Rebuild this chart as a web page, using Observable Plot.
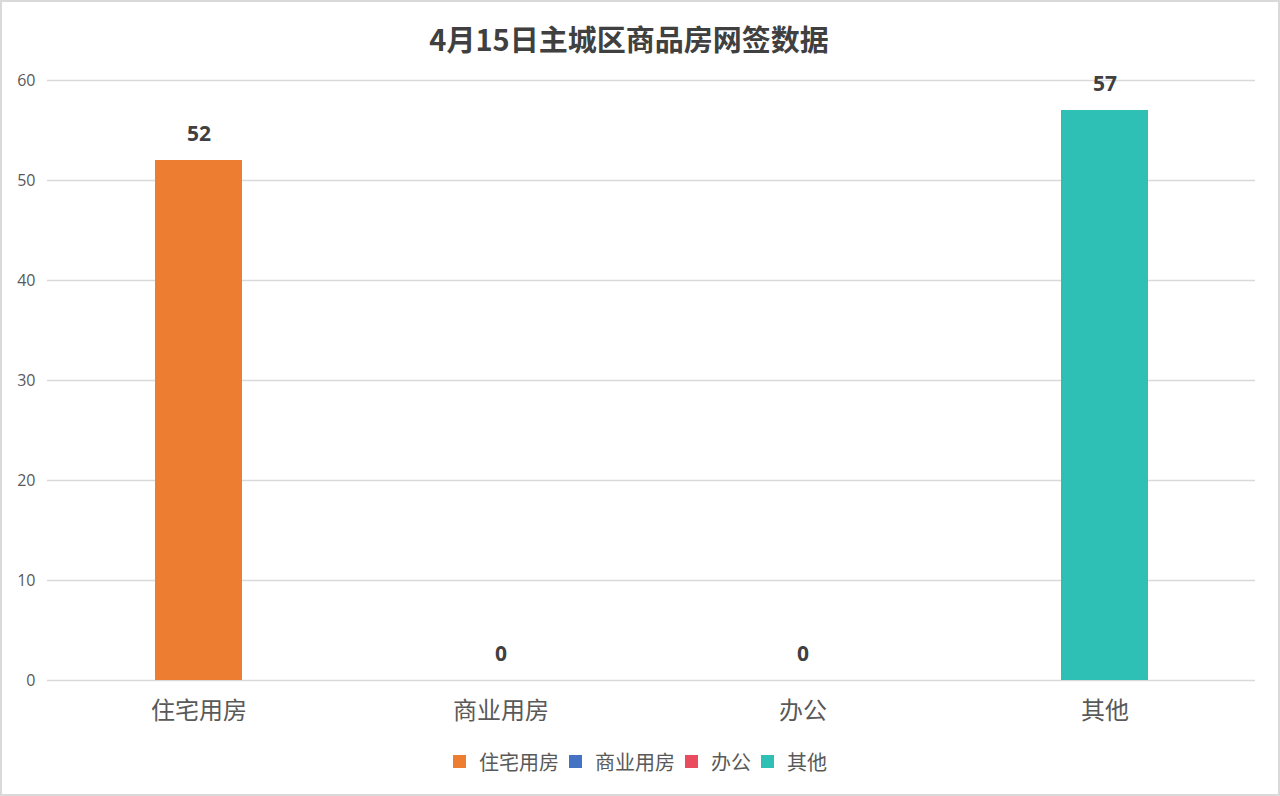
<!DOCTYPE html>
<html>
<head>
<meta charset="utf-8">
<script src="https://cdn.jsdelivr.net/npm/d3@7"></script>
<script src="https://cdn.jsdelivr.net/npm/@observablehq/plot@0.6"></script>
<style>
  html, body { margin: 0; padding: 0; background: #fff; }
  #frame { position: relative; width: 1276px; height: 792px; border: 2px solid #d9d9d9; background: #fff; overflow: hidden; }
  #title { position: absolute; left: 0; right: 22px; top: 15px; text-align: center; font-family: "Noto Sans CJK SC", sans-serif; font-weight: bold; font-size: 29px; color: #404040; }
  #chart { position: absolute; left: -2px; top: -2px; width: 1280px; }
  #chart svg { max-width: none; }
  #legend { position: absolute; left: 0; right: 0; top: 745px; display: flex; justify-content: center; align-items: center; font-family: "Noto Sans CJK SC", sans-serif; font-size: 20px; color: #595959; }
  .item { display: flex; align-items: center; margin: 0 5px; }
  .sw { width: 13px; height: 13px; margin-right: 13px; }
</style>
</head>
<body>
<div id="frame">
  <div id="title">4月15日主城区商品房网签数据</div>
  <div id="chart"></div>
  <div id="legend"></div>
</div>
<script>
const categories = ["住宅用房", "商业用房", "办公", "其他"];
const values = [52, 0, 0, 57];
const colors = ["#ED7D31", "#4472C4", "#E84C5E", "#2EC0B5"];
const yTicks = [0, 10, 20, 30, 40, 50, 60];

const data = categories.map((c, i) => ({category: c, value: values[i]}));

const plot = Plot.plot({
  width: 1280,
  height: 730,
  marginTop: 80,
  marginBottom: 50,
  marginLeft: 47,
  marginRight: 25,
  style: {fontFamily: "'Noto Sans CJK SC', sans-serif", background: "transparent"},
  x: {domain: categories, paddingInner: 0.712, paddingOuter: 0.356, label: null},
  y: {domain: [0, 60], label: null},
  color: {domain: categories, range: colors},
  marks: [
    Plot.ruleY(yTicks, {stroke: "#d9d9d9", strokeWidth: 1.5}),
    Plot.axisY({ticks: yTicks, tickSize: 0, tickPadding: 12, fontSize: 16, fill: "#595959", label: null, fontFamily: "'Open Sans', sans-serif"}),
    Plot.axisX({tickSize: 0, tickPadding: 21, fontSize: 24, fill: "#595959", label: null}),
    Plot.barY(data, {x: "category", y: "value", fill: "category"}),
    Plot.text(data, {x: "category", y: "value", text: d => String(d.value), dy: -26, fontSize: 21, fontWeight: "bold", fill: "#404040", fontFamily: "'Open Sans', sans-serif"})
  ]
});
document.getElementById("chart").appendChild(plot);

const legend = document.getElementById("legend");
categories.forEach((c, i) => {
  const item = document.createElement("div");
  item.className = "item";
  const sw = document.createElement("div");
  sw.className = "sw";
  sw.style.background = colors[i];
  const t = document.createElement("span");
  t.textContent = c;
  item.appendChild(sw);
  item.appendChild(t);
  legend.appendChild(item);
});
</script>
</body>
</html>
